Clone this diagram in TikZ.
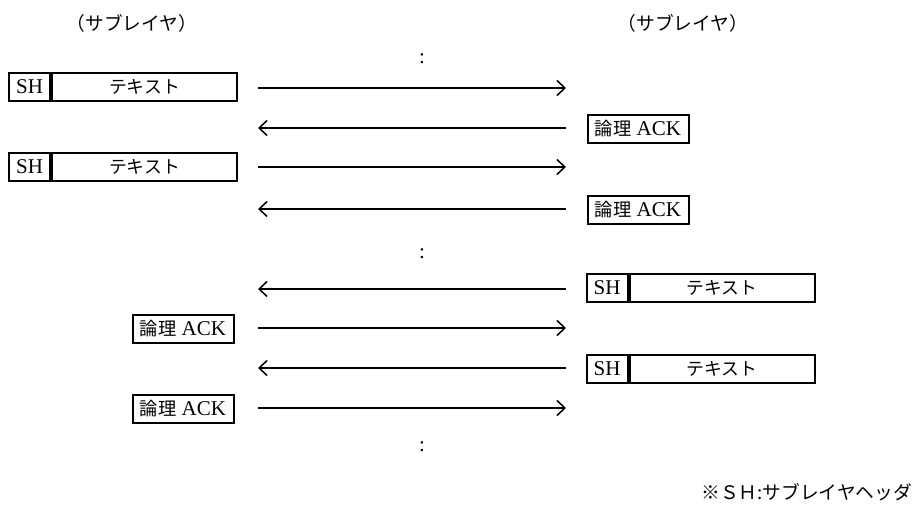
\documentclass[tikz,border=0pt]{standalone}
\usepackage{fontspec}
\setmainfont{Liberation Serif}
\newfontfamily\jp{Noto Sans CJK JP}[Scale=0.87]
\usetikzlibrary{arrows.meta}
\begin{document}
\begin{tikzpicture}[x=1pt,y=-1pt, font=\fontsize{21}{24}\selectfont,
  bx/.style={draw, line width=2pt, minimum height=28pt, inner sep=0pt},
  shbox/.style={bx, minimum width=41pt},
  txbox/.style={bx, minimum width=185pt, font=\fontsize{20.5}{24}\selectfont\jp},
  ackbox/.style={bx, minimum width=101pt},
  lbl/.style={font=\fontsize{21.5}{24}\selectfont\jp, inner sep=0pt},
  msg/.style={line width=1.5pt, -{Straight Barb[length=8pt,width=15pt,line width=1.5pt]}}]
\useasboundingbox (0,0) rectangle (917,516);
\fill[white] (0,0) rectangle (917,516);

% headers
\node[lbl] (hl) at (132,23) {（サブレイヤ）};
\node[lbl] (hr) at (683,23) {（サブレイヤ）};

% colons
\node (c1) at (422,59) {:};
\node (c2) at (422,254) {:};
\node (c3) at (422,447) {:};

% row 1
\node[shbox] (sh1) at (29.5,87) {SH};
\node[txbox, anchor=west] (tx1) at (sh1.east) {テキスト};
\coordinate (a1l) at (258,88); \coordinate (a1r) at (566,88);
\draw[msg] (a1l) -- (a1r);

% row 2
\node[ackbox] (ack2) at (638,129) {{\jp 論理} ACK};
\coordinate (a2l) at (258,128); \coordinate (a2r) at (566,128);
\draw[msg] (a2r) -- (a2l);

% row 3
\node[shbox] (sh3) at (29.5,167) {SH};
\node[txbox, anchor=west] (tx3) at (sh3.east) {テキスト};
\coordinate (a3l) at (258,167); \coordinate (a3r) at (566,167);
\draw[msg] (a3l) -- (a3r);

% row 4
\node[ackbox] (ack4) at (638,210) {{\jp 論理} ACK};
\coordinate (a4l) at (258,209); \coordinate (a4r) at (566,209);
\draw[msg] (a4r) -- (a4l);

% row 5
\node[shbox] (sh5) at (607,288) {SH};
\node[txbox, anchor=west] (tx5) at (sh5.east) {テキスト};
\coordinate (a5l) at (258,289); \coordinate (a5r) at (566,289);
\draw[msg] (a5r) -- (a5l);

% row 6
\node[ackbox] (ack6) at (183,329) {{\jp 論理} ACK};
\coordinate (a6l) at (258,328); \coordinate (a6r) at (566,328);
\draw[msg] (a6l) -- (a6r);

% row 7
\node[shbox] (sh7) at (607,369) {SH};
\node[txbox, anchor=west] (tx7) at (sh7.east) {テキスト};
\coordinate (a7l) at (258,368); \coordinate (a7r) at (566,368);
\draw[msg] (a7r) -- (a7l);

% row 8
\node[ackbox] (ack8) at (183,409) {{\jp 論理} ACK};
\coordinate (a8l) at (258,408); \coordinate (a8r) at (566,408);
\draw[msg] (a8l) -- (a8r);

% note
\node[lbl, anchor=east] (note) at (912,492) {※ＳＨ:サブレイヤヘッダ};
\end{tikzpicture}
\end{document}
